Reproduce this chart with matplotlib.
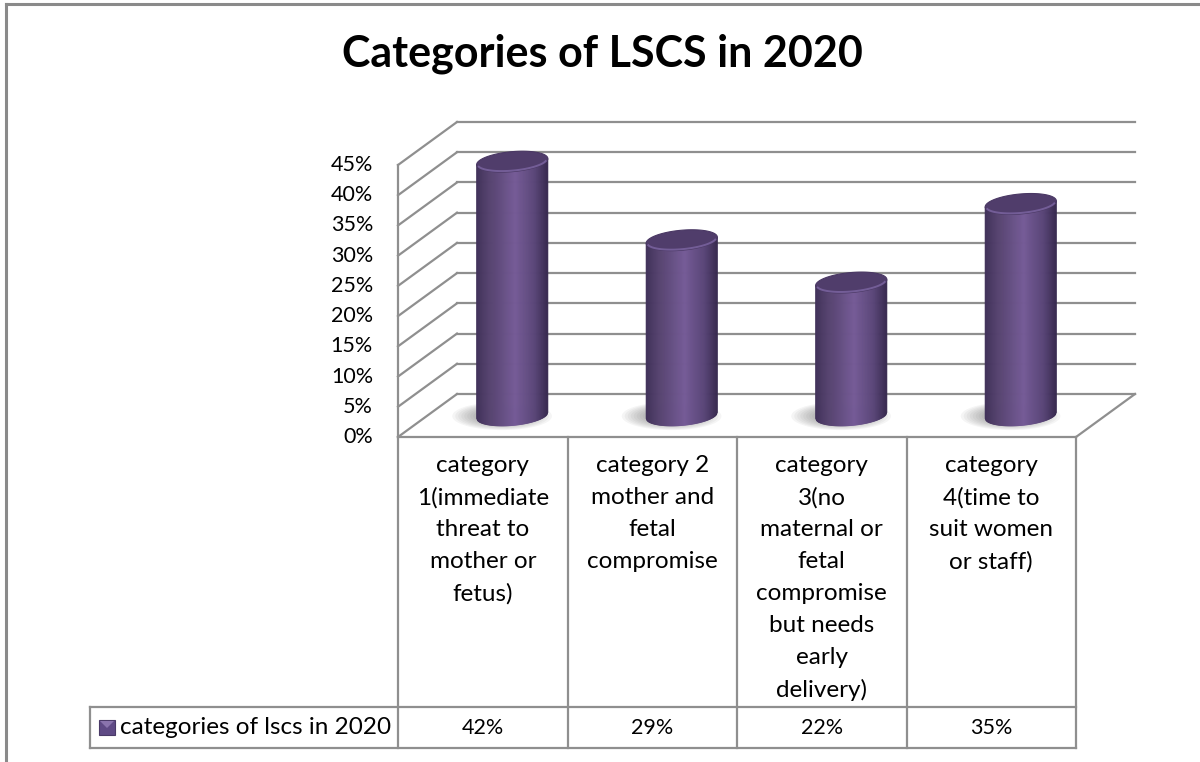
import matplotlib
matplotlib.use("Agg")
import matplotlib.pyplot as plt
import numpy as np
from matplotlib.patches import Polygon, Rectangle
from matplotlib.colors import LinearSegmentedColormap

title = "Categories of LSCS in 2020"
categories = [
    "category\n1(immediate\nthreat to\nmother or\nfetus)",
    "category 2\nmother and\nfetal\ncompromise",
    "category\n3(no\nmaternal or\nfetal\ncompromise\nbut needs\nearly\ndelivery)",
    "category\n4(time to\nsuit women\nor staff)",
]
values = [0.42, 0.29, 0.22, 0.35]
value_labels = ["42%", "29%", "22%", "35%"]
series_name = "categories of lscs in 2020"
yticks = [0.0, 0.05, 0.10, 0.15, 0.20, 0.25, 0.30, 0.35, 0.40, 0.45]
ytick_labels = ["0%", "5%", "10%", "15%", "20%", "25%", "30%", "35%", "40%", "45%"]

plt.rcParams["font.family"] = ["Lato", "DejaVu Sans"]

W, H = 1200, 762
fig = plt.figure(figsize=(W / 100, H / 100), dpi=100)

# pixel axes for frame, title, labels and the data table
px = fig.add_axes([0, 0, 1, 1])
px.set_xlim(0, W)
px.set_ylim(H, 0)
px.axis("off")

# front plane of the 3-D box (pixels)
x0, x1, yb, yt = 398, 1076, 437, 165
ax = fig.add_axes([x0 / W, 1 - yb / H, (x1 - x0) / W, (yb - yt) / H])
ax.set_xlim(-0.5, 3.5)
ax.set_ylim(0, 0.45)
ax.axis("off")

ux = (x1 - x0) / 4          # px per category
uy = (yb - yt) / 0.45       # px per unit value
dep_x = 59 / ux             # depth vector in data units
dep_y = 43 / uy

gc = "#8f8f8f"
glw = 1.6

# back wall gridlines and side wall diagonals
for t in yticks:
    ax.plot([-0.5 + dep_x, 3.5 + dep_x], [t + dep_y, t + dep_y], color=gc, lw=glw, clip_on=False, zorder=1)
    ax.plot([-0.5, -0.5 + dep_x], [t, t + dep_y], color=gc, lw=glw, clip_on=False, zorder=1)
ax.plot([-0.5, -0.5], [0, 0.45], color=gc, lw=glw, clip_on=False, zorder=1)
ax.plot([3.5, 3.5 + dep_x], [0, dep_y], color=gc, lw=glw, clip_on=False, zorder=1)

# cylinders
cmap = LinearSegmentedColormap.from_list(
    "cyl", [(0, "#3f3058"), (0.18, "#56436f"), (0.55, "#755b97"), (0.82, "#5a4678"), (1, "#382a50")])
rx = 0.21
ry = 10 / uy
slope = (6 / uy) / (2 * rx)

for i, v in enumerate(values):
    cx = i + 0.5 * dep_x
    cy = 0.5 * dep_y

    # soft shadow on the floor
    for k in range(10):
        f = 1.0 - k * 0.06
        th = np.linspace(0, 2 * np.pi, 80)
        sx = cx - 0.06 + rx * 1.4 * f * np.cos(th)
        sy = cy - 0.001 + ry * 1.4 * f * np.sin(th)
        ax.add_patch(Polygon(np.column_stack([sx, sy]), closed=True, facecolor="#4a4a4a",
                             edgecolor="none", alpha=0.055, clip_on=False, zorder=2))

    # body as thin shaded strips
    n = 70
    xs = np.linspace(cx - rx, cx + rx, n + 1)
    for j in range(n):
        a, b = xs[j], xs[j + 1]
        pts = []
        for xx in (a, b):
            u = np.clip((xx - cx) / rx, -1, 1)
            pts.append((xx, cy - ry * np.sqrt(1 - u * u) + slope * (xx - cx)))
        for xx in (b, a):
            pts.append((xx, cy + v + slope * (xx - cx)))
        c = cmap((0.5 * (a + b) - (cx - rx)) / (2 * rx))
        ax.add_patch(Polygon(pts, closed=True, facecolor=c, edgecolor=c, lw=0.6,
                             clip_on=False, zorder=3))

    # top cap
    th = np.linspace(0, 2 * np.pi, 120)
    ex = cx + rx * np.cos(th)
    ey = cy + v + ry * np.sin(th) + slope * (ex - cx)
    ax.add_patch(Polygon(np.column_stack([ex, ey]), closed=True, facecolor="#503d6b",
                         edgecolor="#4a3864", lw=0.8, clip_on=False, zorder=4))
    th2 = np.linspace(np.pi * 1.08, np.pi * 1.92, 60)
    rxx = cx + rx * 0.97 * np.cos(th2)
    ax.plot(rxx, cy + v + ry * 0.9 * np.sin(th2) + slope * (rxx - cx), color="#7d66a3",
            lw=1.4, alpha=0.8, clip_on=False, zorder=5)

# y tick labels
for t, lab in zip(yticks, ytick_labels):
    px.text(373, yb - t * uy, lab, ha="right", va="center", fontsize=15.5, color="#000000")

# data table
col_px = [x0 + ux * k for k in range(5)]
row_top, row_mid, row_bot = 437, 707, 748
leg_left = 90
for xc in col_px:
    px.plot([xc, xc], [row_top, row_bot], color=gc, lw=glw)
px.plot([x0, x1], [row_top, row_top], color=gc, lw=glw)
px.plot([leg_left, x1], [row_mid, row_mid], color=gc, lw=glw)
px.plot([leg_left, x1], [row_bot, row_bot], color=gc, lw=glw)
px.plot([leg_left, leg_left], [row_mid, row_bot], color=gc, lw=glw)

for i, (lab, val) in enumerate(zip(categories, value_labels)):
    xc = col_px[i] + ux / 2
    for j, line in enumerate(lab.split("\n")):
        px.text(xc, 466 + 32 * j, line, ha="center", va="center", fontsize=17.5)
    px.text(xc, (row_mid + row_bot) / 2, val, ha="center", va="center", fontsize=15.5)

# legend key
px.add_patch(Rectangle((99, 720), 16, 15, facecolor="#5f4a85", edgecolor="#4a3a68", lw=0.8))
px.add_patch(Polygon([(100, 721), (114, 721), (107, 728)], closed=True, facecolor="#8a74ad",
                     edgecolor="none"))
px.text(120, (row_mid + row_bot) / 2, series_name, ha="left", va="center", fontsize=17.5)

# title
px.text(602, 54, title, ha="center", va="center", fontsize=31, fontweight="bold")

# chart frame
px.plot([6, 6], [4, H], color="#8a8a8a", lw=2.2)
px.plot([6, W], [4, 4], color="#8a8a8a", lw=2.2)

fig.savefig("out.png", dpi=100)
